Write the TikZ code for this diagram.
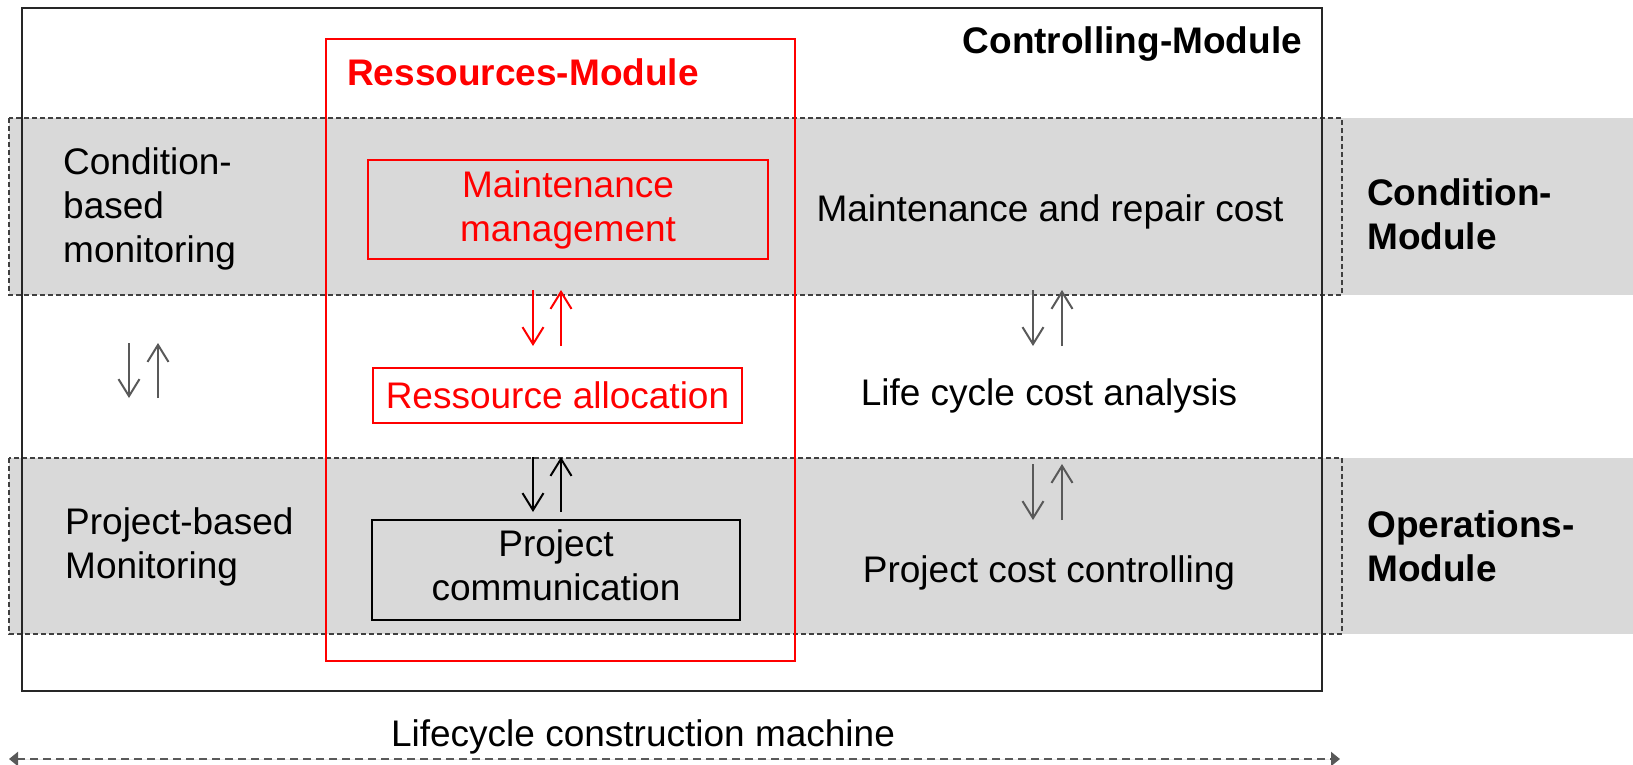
\documentclass[tikz,border=0pt]{standalone}
\usepackage{fontspec}
\setmainfont{Liberation Sans}
\usetikzlibrary{arrows.meta}
\definecolor{bandgray}{HTML}{D9D9D9}
\definecolor{arrgray}{HTML}{595959}
\definecolor{modred}{HTML}{FF0000}
\begin{document}
\begin{tikzpicture}[x=1pt,y=-1pt,
  txt/.style={inner sep=0pt, font=\fontsize{37}{44}\selectfont},
  btxt/.style={inner sep=0pt, font=\fontsize{37}{44}\selectfont\bfseries},
  bandfill/.style={fill=bandgray, draw=none},
  bandline/.style={draw=black!75, dash pattern=on 5pt off 3pt, line width=1.3pt},
  boxnode/.style={draw, line width=1.8pt, inner sep=0pt, font=\fontsize{37}{44}\selectfont, align=center},
  arr/.style={-{Straight Barb[length=17pt,width=21pt,line width=2pt]}, line width=2pt},
  lifearr/.style={{Triangle[length=9pt,width=14pt]}-{Triangle[length=9pt,width=14pt]}, draw=arrgray, fill=arrgray, line width=2.5pt, dash pattern=on 8pt off 5pt}
]
\useasboundingbox (0,0) rectangle (1633,764);
% bands
\fill[bandfill] (9,118) rectangle (1633,295);
\fill[bandfill] (9,458) rectangle (1633,634);
\draw[bandline] (9,118) rectangle (1342,295);
\draw[bandline] (9,458) rectangle (1342,634);
% outer controlling box
\draw[black!85, line width=1.5pt] (22,8) rectangle (1322,691);
% ressources module box
\draw[modred, line width=1.3pt] (326,39) rectangle (795,661);
% titles
\node[btxt, anchor=east] (ctrl) at (1302,44) {Controlling-Module};
\node[btxt, anchor=west, text=modred] (res) at (347,72) {Ressources-Module};
\node[btxt, anchor=west, align=left] (cond) at (1367,214) {Condition-\\Module};
\node[btxt, anchor=west, align=left] (ops) at (1367,546) {Operations-\\Module};
% left column
\node[txt, anchor=west, align=left] (cbm) at (63,209) {Condition-\\based\\monitoring};
\node[txt, anchor=west, align=left] (pbm) at (65,547) {Project-based\\Monitoring};
% middle boxes
\node[boxnode, draw=modred, text=modred, minimum width=400pt, minimum height=99pt] (maint) at (568,209.5) {Maintenance\\management};
\node[boxnode, draw=modred, text=modred, line width=1.5pt, minimum width=369pt, minimum height=55pt] (alloc) at (557.5,395.5) {Ressource allocation};
\node[boxnode, draw=black, minimum width=368pt, minimum height=100pt] (pcom) at (556,570) {\raisebox{3pt}{\begin{tabular}{@{}c@{}}Project\\communication\end{tabular}}};
% right column
\node[txt] (mrc) at (1050,212) {Maintenance and repair cost};
\node[txt] (lcc) at (1049,396) {Life cycle cost analysis};
\node[txt] (pcc) at (1049,573) {Project cost controlling};
% arrow end coordinates
\coordinate (l1t) at (129,343); \coordinate (l1b) at (129,398);
\coordinate (l2t) at (158,343); \coordinate (l2b) at (158,398);
\coordinate (m1t) at (533,290); \coordinate (m1b) at (533,346);
\coordinate (m2t) at (561,290); \coordinate (m2b) at (561,346);
\coordinate (m3t) at (533,457); \coordinate (m3b) at (533,512);
\coordinate (m4t) at (561,457); \coordinate (m4b) at (561,512);
\coordinate (r1t) at (1033,290); \coordinate (r1b) at (1033,346);
\coordinate (r2t) at (1062,290); \coordinate (r2b) at (1062,346);
\coordinate (r3t) at (1033,464); \coordinate (r3b) at (1033,520);
\coordinate (r4t) at (1062,464); \coordinate (r4b) at (1062,520);
% arrows
\draw[arr, arrgray] (l1t) -- (l1b);
\draw[arr, arrgray] (l2b) -- (l2t);
\draw[arr, modred] (m1t) -- (m1b);
\draw[arr, modred] (m2b) -- (m2t);
\draw[arr, black] (m3t) -- (m3b);
\draw[arr, black] (m4b) -- (m4t);
\draw[arr, arrgray] (r1t) -- (r1b);
\draw[arr, arrgray] (r2b) -- (r2t);
\draw[arr, arrgray] (r3t) -- (r3b);
\draw[arr, arrgray] (r4b) -- (r4t);
% lifecycle
\node[txt] (life) at (643,737) {Lifecycle construction machine};
\coordinate (lifeL) at (9,759);
\coordinate (lifeR) at (1340,759);
\draw[lifearr] (lifeL) -- (lifeR);
\end{tikzpicture}
\end{document}
